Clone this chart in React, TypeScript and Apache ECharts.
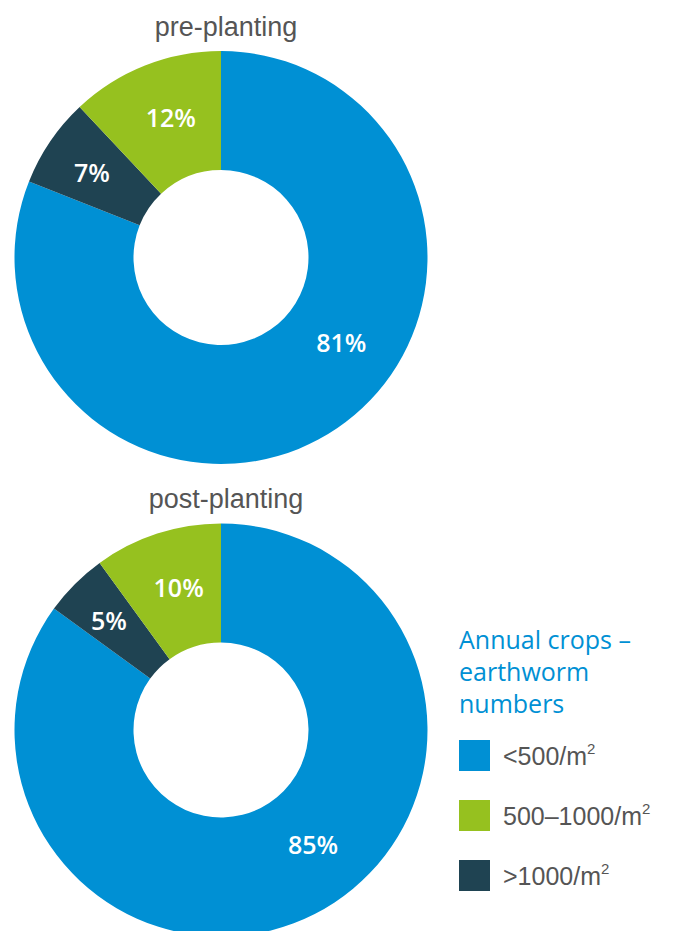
import React, { useEffect, useRef } from "react";
import * as echarts from "echarts";

const categories = ["<500/m²", ">1000/m²", "500–1000/m²"];
const legendOrder = ["<500/m²", "500–1000/m²", ">1000/m²"];
const preValues = [81, 7, 12];
const postValues = [85, 5, 10];
const chartTitles = ["pre-planting", "post-planting"];
const legendTitle = "Annual crops –\nearthworm\nnumbers";

const COLORS: Record<string, string> = {
  "<500/m²": "#0090d4",
  "500–1000/m²": "#96c11f",
  ">1000/m²": "#1f4352",
};

// label nudges (pixels) for each slice, per chart
const preNudge = [[36, -40], [-5, -1], [5, -1]];
const postNudge = [[24, -20], [-6, -4], [4, 0]];

function makePie(values: number[], center: [number, number], nudge: number[][]) {
  return {
    type: "pie",
    center,
    radius: [87.5, 206.5],
    startAngle: 90,
    clockwise: true,
    silent: true,
    emphasis: { disabled: true },
    label: {
      show: true,
      position: "inside",
      formatter: "{c}%",
      color: "#ffffff",
      fontFamily: "Open Sans",
      fontWeight: 600,
      fontSize: 25,
    },
    labelLine: { show: false },
    labelLayout: (p: any) => {
      const n = nudge[p.dataIndex] || [0, 0];
      return { dx: n[0], dy: n[1] };
    },
    data: categories.map((name, i) => ({
      name,
      value: values[i],
      itemStyle: { color: COLORS[name] },
    })),
  };
}

export default function App() {
  const ref = useRef<HTMLDivElement>(null);
  useEffect(() => {
    document.body.style.margin = "0";
    const chart = echarts.init(ref.current!, null, { renderer: "svg" });
    chart.setOption({
      animation: false,
      backgroundColor: "#ffffff",
      title: [
        {
          text: chartTitles[0],
          left: 221,
          top: 8,
          textAlign: "center",
          textStyle: { fontFamily: "Liberation Sans", fontWeight: "normal", fontSize: 27, color: "#555555" },
        },
        {
          text: chartTitles[1],
          left: 221,
          top: 480,
          textAlign: "center",
          textStyle: { fontFamily: "Liberation Sans", fontWeight: "normal", fontSize: 27, color: "#555555" },
        },
        {
          text: legendTitle,
          left: 454,
          top: 618,
          textStyle: { fontFamily: "Open Sans", fontWeight: "normal", fontSize: 25, lineHeight: 32, color: "#0090d4" },
        },
      ],
      legend: {
        orient: "vertical",
        left: 454,
        top: 735,
        itemWidth: 31,
        itemHeight: 31,
        itemGap: 29,
        icon: "rect",
        selectedMode: false,
        data: legendOrder,
        formatter: (name: string) => `{a|${name.replace("²", "")}}{s|2}`,
        textStyle: {
          fontFamily: "Liberation Sans",
          fontSize: 25,
          color: "#555555",
          padding: [0, 0, 0, 8],
          rich: {
            a: { fontFamily: "Liberation Sans", fontSize: 25, lineHeight: 30, color: "#555555" },
            s: { fontFamily: "Liberation Sans", fontSize: 15, lineHeight: 30, color: "#555555", verticalAlign: "top" },
          },
        },
      },
      series: [
        makePie(preValues, [221, 257.5], preNudge),
        makePie(postValues, [221, 730], postNudge),
      ],
    });
    return () => chart.dispose();
  }, []);
  return <div ref={ref} style={{ width: 676, height: 931 }} />;
}
